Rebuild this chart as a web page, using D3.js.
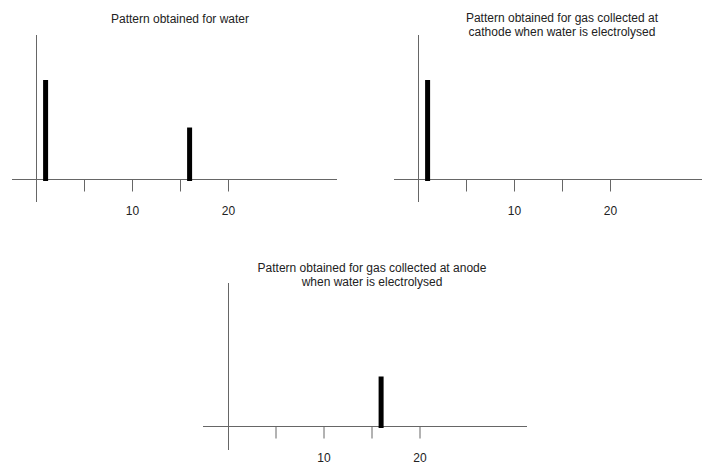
<!DOCTYPE html>
<html>
<head>
    <meta charset="utf-8">
    <title>Mass spectra</title>
    <script src="https://d3js.org/d3.v7.min.js"></script>
    <style>
        body { margin: 0; background: #fff; }
        text { font-family: "Liberation Sans", Arial, Helvetica, sans-serif; fill: #222; }
    </style>
</head>
<body>
    <script>
        // chart values
        const tickValues = [5, 10, 15, 20];
        const tickLabels = ["", "10", "", "20"];

        const waterTitle = ["Pattern obtained for water"];
        const waterMass = [1, 16];
        const waterIntensity = [100, 52];

        const cathodeTitle = ["Pattern obtained for gas collected at", "cathode when water is electrolysed"];
        const cathodeMass = [1];
        const cathodeIntensity = [100];

        const anodeTitle = ["Pattern obtained for gas collected at anode", "when water is electrolysed"];
        const anodeMass = [16];
        const anodeIntensity = [50];

        const width = 707, height = 464;

        const svg = d3.select("body")
            .append("svg")
            .attr("width", width)
            .attr("height", height);

        // layout of the three panels (pixels)
        const panels = [
            { title: waterTitle, mass: waterMass, inten: waterIntensity,
              x0: 36, axisY: 179, left: 12, right: 337, top: 35, bottom: 202, titleX: 180, titleY: 22.5 },
            { title: cathodeTitle, mass: cathodeMass, inten: cathodeIntensity,
              x0: 418, axisY: 179, left: 394, right: 702, top: 35, bottom: 202, titleX: 562, titleY: 22 },
            { title: anodeTitle, mass: anodeMass, inten: anodeIntensity,
              x0: 227.5, axisY: 426, left: 203, right: 527, top: 283, bottom: 450, titleX: 372, titleY: 271.5 }
        ];

        panels.forEach(p => {
            const g = svg.append("g");

            const x = d3.scaleLinear().domain([0, 20]).range([p.x0, p.x0 + 192]);
            const y = d3.scaleLinear().domain([0, 100]).range([p.axisY, p.axisY - 99]);

            // title
            g.append("text")
                .attr("text-anchor", "middle")
                .attr("font-size", 12)
                .selectAll("tspan")
                .data(p.title)
                .join("tspan")
                .attr("x", p.titleX)
                .attr("y", (d, i) => p.titleY + i * 14)
                .text(d => d);

            // x axis line
            g.append("line")
                .attr("x1", p.left).attr("x2", p.right)
                .attr("y1", Math.round(p.axisY) + 0.5).attr("y2", Math.round(p.axisY) + 0.5)
                .attr("stroke", "#666");

            // y axis line
            g.append("line")
                .attr("x1", Math.round(p.x0) + 0.5).attr("x2", Math.round(p.x0) + 0.5)
                .attr("y1", p.top).attr("y2", p.bottom)
                .attr("stroke", "#666");

            // ticks
            const axis = d3.axisBottom(x)
                .tickValues(tickValues)
                .tickFormat((d, i) => tickLabels[i])
                .tickSize(12)
                .tickSizeOuter(0)
                .tickPadding(15);

            const ax = g.append("g")
                .attr("transform", `translate(0,${Math.round(p.axisY) + 0.5})`)
                .call(axis);
            ax.select(".domain").remove();
            ax.selectAll(".tick line").attr("stroke", "#666");
            ax.selectAll(".tick text")
                .attr("font-size", 12)
                .attr("font-family", "Liberation Sans, Arial, sans-serif")
                .attr("fill", "#222");

            // peaks
            g.selectAll("rect.peak")
                .data(p.mass.map((m, i) => ({ m, v: p.inten[i] })))
                .join("rect")
                .attr("class", "peak")
                .attr("x", d => x(d.m) - 2.5)
                .attr("width", 5)
                .attr("y", d => y(d.v))
                .attr("height", d => y(0) - y(d.v) + 2)
                .attr("fill", "#000");
        });
    </script>
</body>
</html>
